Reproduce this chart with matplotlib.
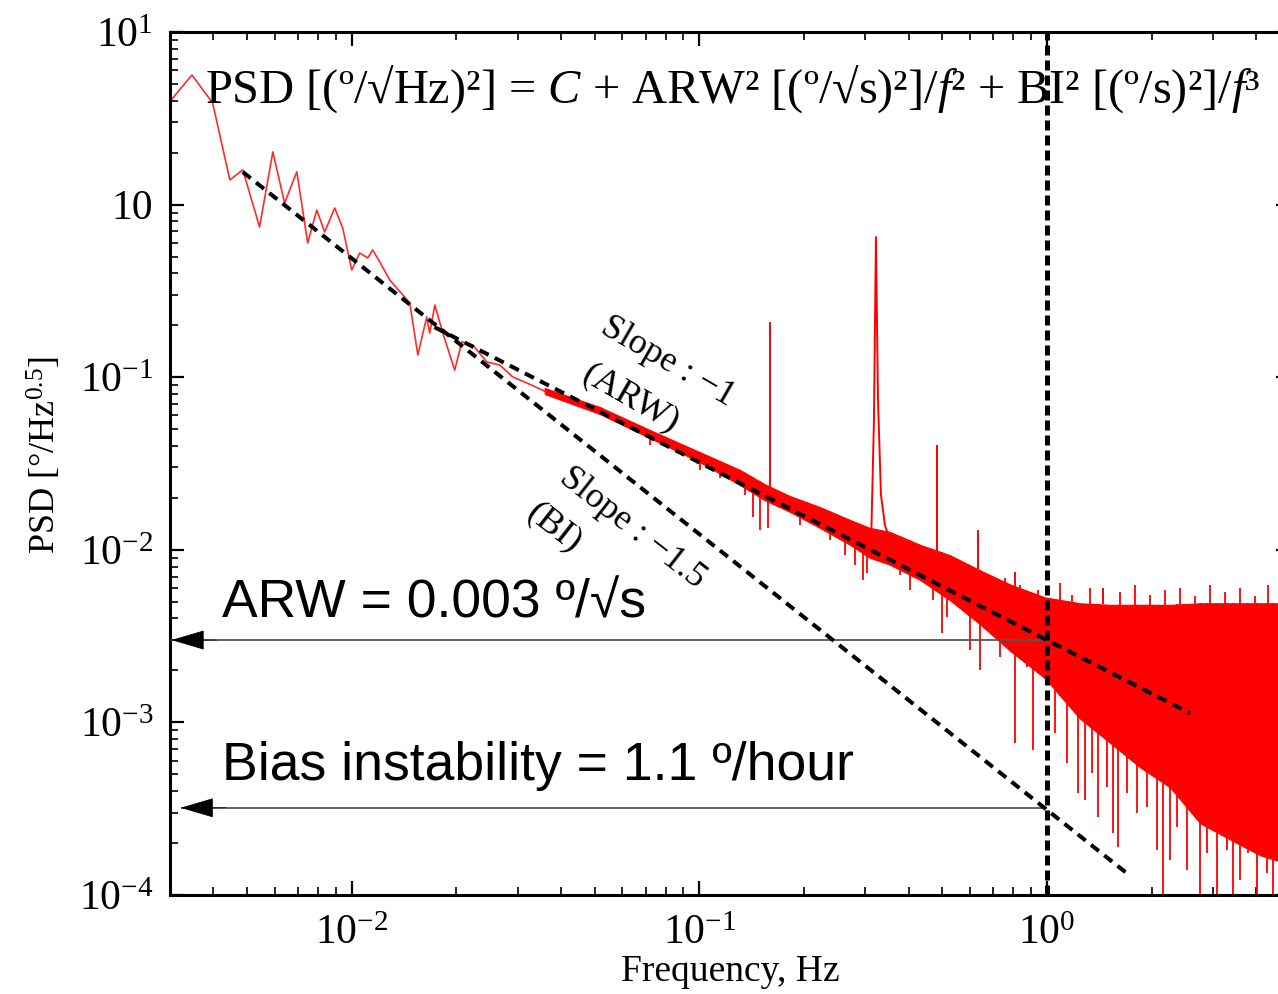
import numpy as np
import matplotlib
matplotlib.use('Agg')
import matplotlib.pyplot as plt
from matplotlib.ticker import LogLocator, NullFormatter

# --- data ---
# low-frequency part of the PSD (Hz, deg/Hz^0.5)
low_f = [0.00299, 0.00347, 0.00398, 0.00446, 0.00486, 0.00543, 0.00593, 0.00641,
         0.00695, 0.00747, 0.00793, 0.00836, 0.00893, 0.00942, 0.0100, 0.01054,
         0.01112, 0.01149, 0.01204, 0.01286, 0.01469, 0.01549, 0.01643, 0.01676,
         0.01734, 0.01828, 0.01978, 0.02073, 0.0223, 0.02445, 0.02666, 0.02904,
         0.0319, 0.0359]
low_psd = [3.93, 5.64, 3.88, 1.39, 1.59, 0.742, 2.02, 1.02,
           1.55, 0.599, 0.930, 0.694, 0.956, 0.732, 0.418, 0.524,
           0.491, 0.546, 0.465, 0.366, 0.269, 0.1345, 0.2233, 0.180,
           0.262, 0.180, 0.110, 0.160, 0.1537, 0.1225, 0.1177, 0.1003,
           0.0926, 0.083]

# noisy part: envelope of the dense trace
band_f = [0.0359, 0.0517, 0.0721, 0.100, 0.131, 0.154, 0.182, 0.222, 0.271, 0.309,
          0.353, 0.431, 0.526, 0.642, 0.783, 0.987, 1.245, 1.52, 1.85, 2.26,
          2.76, 3.36, 4.10, 5.0]
band_hi = [0.0866, 0.0672, 0.0494, 0.0369, 0.0290, 0.0240, 0.0205, 0.0177, 0.0149, 0.0134,
           0.0127, 0.0107, 0.0093, 0.0076, 0.0063, 0.0053, 0.0049, 0.0048, 0.0048, 0.0048,
           0.0049, 0.0049, 0.0049, 0.0049]
band_lo = [0.0799, 0.0612, 0.0444, 0.0323, 0.0237, 0.0194, 0.0166, 0.0134, 0.0107, 0.0090,
           0.0082, 0.0067, 0.0051, 0.0037, 0.0026, 0.0018, 0.00105, 0.00076, 0.00055, 0.00042,
           0.00026, 0.00021, 0.00017, 0.00015]

# downward noise spikes (freq, lowest value)
dip_f = [0.0721, 0.1003, 0.1146, 0.1352, 0.1426, 0.1493, 0.1575, 0.1946, 0.2374, 0.2623,
         0.2803, 0.2954, 0.3034, 0.3776, 0.4034, 0.4696, 0.4986, 0.5155, 0.6004, 0.6416,
         0.7321, 0.809, 0.8758, 0.9113, 1.0, 1.054, 1.142, 1.228, 1.286, 1.348,
         1.402, 1.488, 1.549, 1.601, 1.699, 1.816, 1.940, 2.073, 2.157, 2.259,
         2.366, 2.528, 2.756, 2.886, 3.085, 3.296, 3.430, 3.594, 3.788, 4.022,
         4.297, 4.471]
dip_psd = [0.0405, 0.0290, 0.0261, 0.0208, 0.0155, 0.0130, 0.0134, 0.0139, 0.0114, 0.00933,
           0.00817, 0.00668, 0.00734, 0.00714, 0.00585, 0.00512, 0.00330, 0.00408, 0.00263, 0.00201,
           0.00239, 0.00076, 0.00209, 0.00069, 0.00169, 0.00087, 0.00058, 0.00039, 0.000355, 0.00051,
           0.000283, 0.000423, 0.000229, 0.00019, 0.00039, 0.000299, 0.000324, 0.000182, 9e-5, 0.00016,
           0.000248, 0.00014, 9e-5, 0.000175, 9e-5, 0.000182, 9e-5, 0.000122, 0.000175, 9e-5,
           0.000134, 9e-5]

# upward noise spikes on the top edge (freq, highest value)
up_f = [0.757, 0.836, 0.942, 1.090, 1.180, 1.330, 1.622, 1.791, 1.978, 2.186,
        2.414, 2.666, 2.944, 3.252, 3.594, 3.968, 4.325]
up_psd = [0.00686, 0.00625, 0.00585, 0.00642, 0.00547, 0.0060, 0.0057, 0.00625, 0.00547, 0.00585,
          0.0060, 0.0054, 0.00625, 0.0057, 0.0060, 0.0054, 0.00625]

# narrow resonance peaks (freq, top)
peak_f = [0.1596, 0.4826, 0.633, 0.809, 1.449]
peak_top = [0.209, 0.0405, 0.0130, 0.00744, 0.0060]

# the broad resonance near 0.32 Hz
pk2_f = [0.3115, 0.3178, 0.3220, 0.3264, 0.3329, 0.3418, 0.3533]
pk2_psd = [0.00998, 0.0565, 0.649, 0.0738, 0.0208, 0.0139, 0.0114]

# fitted slopes
arw_f = [0.0173, 2.58]
arw_psd = [0.195, 0.00113]
bi_f = [0.00486, 1.71]
bi_psd = [1.545, 1.32e-4]

arw_value = 0.003
bi_value = 3.2e-4
arw_tip = 0.00303
bi_tip = 0.00322
corner_f = 1.0

ytick_vals = [1e-4, 1e-3, 1e-2, 1e-1, 1e0, 1e1]
ytick_labels = [r'$\mathregular{10^{-4}}$', r'$\mathregular{10^{-3}}$', r'$\mathregular{10^{-2}}$',
                r'$\mathregular{10^{-1}}$', '10', r'$\mathregular{10^{1}}$']
xtick_vals = [1e-2, 1e-1, 1e0]
xtick_labels = [r'$\mathregular{10^{-2}}$', r'$\mathregular{10^{-1}}$', r'$\mathregular{10^{0}}$']

plt.rcParams['font.family'] = ['Liberation Serif', 'DejaVu Serif']
plt.rcParams['mathtext.fontset'] = 'custom'
plt.rcParams['mathtext.rm'] = 'Liberation Serif'
plt.rcParams['mathtext.it'] = 'Liberation Serif:italic'
plt.rcParams['mathtext.bf'] = 'Liberation Serif:bold'

fig = plt.figure(figsize=(12.78, 9.94), dpi=100)
ax = fig.add_axes([0.1330, 0.0996, 0.8764, 0.8682])
ax.set_xscale('log')
ax.set_yscale('log')
ax.set_xlim(0.003, 5.0)
ax.set_ylim(1e-4, 10)


def on_band(f, edge):
    return 10 ** np.interp(np.log10(f), np.log10(band_f), np.log10(edge))


red = '#ff0000'
ax.plot(low_f, low_psd, color='#ff2a2a', lw=1.2, zorder=2)
ax.fill_between(band_f, band_lo, band_hi, color=red, lw=0.8, zorder=2)
ax.vlines(dip_f, dip_psd, on_band(np.array(dip_f), band_hi), color=red, lw=1.3, zorder=2)
ax.vlines(up_f, on_band(np.array(up_f), band_lo), up_psd, color=red, lw=1.3, zorder=2)
ax.vlines(peak_f, on_band(np.array(peak_f), band_hi), peak_top, color=red, lw=1.4, zorder=2)
ax.plot(pk2_f, pk2_psd, color=red, lw=1.4, zorder=2)

ax.plot(arw_f, arw_psd, color='black', lw=2.9, linestyle=(0, (2.5, 1.7)), zorder=4)
ax.plot(bi_f, bi_psd, color='black', lw=2.9, linestyle=(0, (2.5, 1.7)), zorder=4)
ax.axvline(corner_f, color='black', lw=3.6, linestyle=(0, (2.0, 1.0)), zorder=4)

# horizontal read-off arrows
for val, tip in [(arw_value, arw_tip), (bi_value, bi_tip)]:
    ax.hlines(val, tip, corner_f, color='#555555', lw=1.3, zorder=3)
    ax.annotate('', xy=(tip, val), xytext=(tip * 1.35, val),
                arrowprops=dict(arrowstyle='-|>,head_length=22,head_width=6.5',
                                mutation_scale=1, color='black', lw=0.5,
                                shrinkA=0, shrinkB=0), zorder=5)

ax.set_yticks(ytick_vals, ytick_labels)
ax.set_xticks(xtick_vals, xtick_labels)
ax.yaxis.set_minor_locator(LogLocator(base=10, subs=np.arange(2, 10)))
ax.xaxis.set_minor_locator(LogLocator(base=10, subs=np.arange(2, 10)))
ax.xaxis.set_minor_formatter(NullFormatter())
ax.yaxis.set_minor_formatter(NullFormatter())
ax.tick_params(which='both', direction='in', top=True, right=True, labelsize=30)
ax.tick_params(which='major', length=10, width=1.6)
ax.tick_params(which='minor', length=5.5, width=1.2)
ax.tick_params(axis='x', pad=14)
ax.tick_params(axis='y', pad=12)
for sp in ax.spines.values():
    sp.set_linewidth(2.2)

ax.text(0.5, -0.089, 'Frequency, Hz', transform=ax.transAxes, ha='center', va='center',
        fontsize=27)
ax.text(-0.112, 0.51, r'PSD [°/Hz$^{\mathregular{0.5}}$]', transform=ax.transAxes,
        rotation=90, ha='center', va='center', fontsize=26)

ax.text(0.031, 0.9177, r'PSD [(º/√Hz)²] = $C$ + ARW² [(º/√s)²]/$f$² + BI² [(º/s)²]/$f$³',
        transform=ax.transAxes, ha='left', va='baseline', fontsize=34.8, zorder=6)

ax.text(0.0464, 0.3221, 'ARW = 0.003 º/√s', transform=ax.transAxes, ha='left',
        va='baseline', fontsize=38.5, family=['Liberation Sans', 'DejaVu Sans'], zorder=6)
ax.text(0.0464, 0.1333, 'Bias instability = 1.1 º/hour', transform=ax.transAxes, ha='left',
        va='baseline', fontsize=38.5, family=['Liberation Sans', 'DejaVu Sans'], zorder=6)

ax.text((668 - 170) / 1120, (895 - 362) / 863, 'Slope : \u22121', transform=ax.transAxes,
        rotation=-30, rotation_mode='anchor', ha='center', va='center', fontsize=26)
ax.text((631 - 170) / 1120, (895 - 399) / 863, '(ARW)', transform=ax.transAxes,
        rotation=-30, rotation_mode='anchor', ha='center', va='center', fontsize=26)
ax.text((632 - 170) / 1120, (895 - 528) / 863, 'Slope : \u22121.5', transform=ax.transAxes,
        rotation=-38, rotation_mode='anchor', ha='center', va='center', fontsize=26)
ax.text((554 - 170) / 1120, (895 - 528) / 863, '(BI)', transform=ax.transAxes,
        rotation=-38, rotation_mode='anchor', ha='center', va='center', fontsize=26)

fig.savefig('out.png', dpi=100)
